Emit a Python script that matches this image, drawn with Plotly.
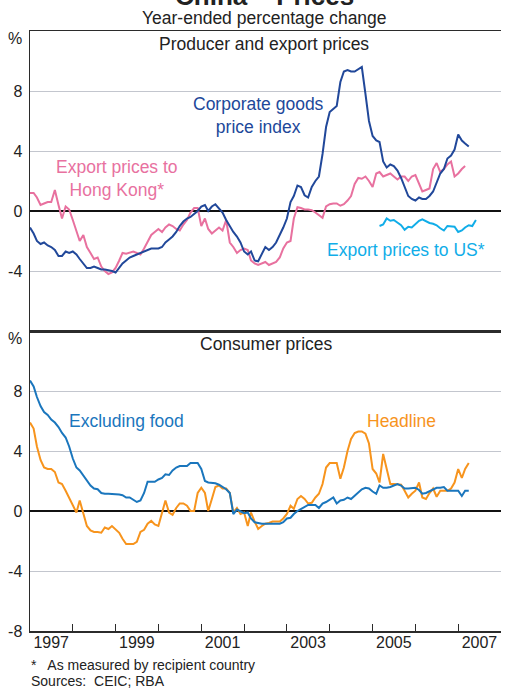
import pandas as pd
import plotly.graph_objects as go

# ---------------- data (year-ended % change, monthly from Jan 1997) ----------------
cgpi = [-1.1,-1.5,-2.0,-2.2,-2.1,-2.3,-2.4,-2.6,-3.0,-3.0,-2.7,-2.8,
        -2.7,-2.9,-3.2,-3.5,-3.8,-3.8,-3.7,-3.8,-3.9,-3.9,-3.95,-4.0,
        -4.1,-3.8,-3.5,-3.3,-3.1,-3.0,-2.9,-2.8,-2.7,-2.6,-2.5,-2.5,
        -2.5,-2.4,-2.1,-1.9,-1.7,-1.4,-1.0,-0.7,-0.5,-0.4,-0.2,0.0,
        0.3,0.4,0.0,0.3,0.45,0.2,-0.1,-0.6,-1.0,-1.4,-1.7,-2.1,
        -2.7,-2.9,-2.7,-3.3,-3.35,-2.9,-2.4,-2.6,-2.4,-2.1,-1.6,-1.1,
        -0.5,0.6,1.0,1.7,1.6,1.05,0.9,1.6,2.0,2.3,3.8,5.6,
        6.6,6.8,7.0,8.6,9.3,9.4,9.3,9.3,9.45,9.6,7.8,6.0,
        5.0,4.7,4.6,3.3,2.9,3.1,3.0,2.7,2.2,1.6,1.0,0.8,
        0.7,0.9,0.8,0.8,1.0,1.3,1.9,2.5,2.8,3.5,3.7,4.1,
        5.1,4.7,4.5,4.3]

hk = [1.2,1.2,0.9,0.4,0.5,0.6,0.6,1.4,0.4,-0.5,0.3,0.1,
      -0.6,-1.4,-2.0,-1.6,-2.4,-2.8,-3.2,-3.1,-3.7,-4.0,-4.2,-4.1,
      -3.8,-3.3,-2.8,-2.85,-2.8,-2.7,-2.8,-2.9,-2.5,-2.1,-1.6,-1.4,
      -1.2,-1.4,-1.1,-0.9,-1.0,-1.2,-1.3,-0.9,-0.6,-0.1,0.2,0.2,
      -1.0,-0.5,-1.2,-1.5,-1.3,-1.1,-1.3,-0.6,-2.1,-2.4,-2.8,-2.6,
      -2.5,-2.6,-3.3,-3.5,-3.6,-3.5,-3.4,-3.6,-3.5,-3.4,-3.1,-2.5,
      -2.1,-2.0,-0.5,0.25,0.2,0.1,0.1,0.05,-0.1,-0.3,-0.45,0.3,
      0.45,0.5,0.5,0.35,0.45,0.7,1.0,1.8,2.2,2.15,2.3,2.0,
      1.6,2.5,2.6,2.3,2.4,2.5,2.3,2.1,2.3,2.3,2.0,2.3,
      2.4,1.8,1.3,1.4,1.5,2.8,3.2,2.6,2.8,3.1,3.3,2.3,
      2.5,2.8,3.0]

# export prices to US start March 2005
us_start = "2005-03-01"
us = [-1.0,-0.9,-0.5,-0.65,-0.6,-0.75,-0.95,-1.25,-1.05,-1.1,-0.85,-0.65,
      -0.55,-0.7,-0.8,-0.85,-0.95,-1.15,-1.3,-1.0,-1.0,-1.05,-1.4,-1.3,
      -1.1,-0.95,-1.0,-0.6]

exfood = [8.7,8.3,7.6,7.0,6.6,6.4,6.1,5.9,5.6,5.2,4.9,4.3,
          3.5,2.9,2.7,2.35,2.0,1.7,1.5,1.45,1.2,1.15,1.15,1.15,
          1.1,1.1,1.05,0.9,0.9,0.75,0.6,0.7,1.2,1.95,1.95,1.95,
          2.1,2.2,2.45,2.4,2.7,2.9,3.0,3.0,3.0,3.2,3.2,3.2,
          2.8,2.0,1.9,1.9,1.85,1.75,1.6,1.45,1.2,-0.2,0.1,0.0,
          -0.15,-0.1,-0.5,-0.75,-0.8,-0.85,-0.85,-0.85,-0.8,-0.8,-0.85,-0.75,
          -0.5,-0.45,-0.2,0.0,0.15,0.3,0.4,0.4,0.4,0.2,0.5,0.6,
          0.75,0.9,0.5,0.7,0.75,0.9,0.8,1.0,1.25,1.45,1.55,1.5,
          1.3,1.15,1.7,1.55,1.55,1.6,1.7,1.8,1.7,1.5,1.5,1.5,
          1.55,1.4,1.15,1.2,1.3,1.45,1.55,1.55,1.6,1.35,1.35,1.3,
          1.35,1.0,1.35,1.35]

headline = [5.9,5.5,4.3,3.4,2.9,2.8,2.8,2.6,1.9,1.8,1.35,0.9,
            0.4,-0.1,0.7,-0.2,-1.0,-1.3,-1.4,-1.4,-1.45,-1.1,-1.2,-1.0,
            -1.2,-1.45,-1.85,-2.2,-2.2,-2.2,-2.05,-1.4,-1.25,-0.85,-0.65,-0.9,
            -1.0,-0.2,0.7,-0.1,-0.25,0.2,0.5,0.5,0.35,0.0,0.0,1.2,
            1.55,1.2,0.0,0.8,1.6,1.7,1.5,1.5,1.2,-0.1,0.2,-0.2,
            -0.1,-1.0,-0.1,-0.7,-1.2,-1.0,-0.85,-0.8,-0.7,-0.7,-0.7,-0.5,
            -0.2,0.35,0.15,0.8,1.0,0.8,0.5,0.55,0.9,1.15,1.8,2.9,
            3.2,3.2,3.2,2.15,2.9,4.0,4.8,5.2,5.3,5.3,5.15,4.5,
            2.8,2.5,1.9,3.8,2.7,1.8,1.8,1.8,1.75,1.35,0.9,1.15,
            1.35,1.9,0.9,0.8,1.2,1.5,0.95,1.35,1.35,1.35,1.5,1.9,
            2.8,2.2,2.8,3.2]

year_ticks = [str(y) + "-01-01" for y in range(1998, 2008)]
year_label_pos = [str(y) + "-07-01" for y in range(1997, 2008, 2)]
year_labels = [str(y) for y in range(1997, 2008, 2)]
y_grid = [-4, 4, 8]
top_tickvals = [11.5, 8, 4, 0, -4]
top_ticktext = ["%", "8", "4", "0", "-4"]
bot_tickvals = [11.5, 8, 4, 0, -4, -8]
bot_ticktext = ["%", "8", "4", "0", "-4", "-8"]

# ---------------- styling ----------------
FONT = "Arial, Liberation Sans, sans-serif"
C_CGPI = "#21489A"
C_HK = "#E8719F"
C_US = "#11ADE8"
C_EXF = "#1A76BD"
C_HEAD = "#F7941D"
FRAME = "#2b2b2b"
GRID = "#C3C6CE"

months = pd.date_range("1997-01-01", periods=len(cgpi), freq="MS")
months_hk = pd.date_range("1997-01-01", periods=len(hk), freq="MS")
months_us = pd.date_range(us_start, periods=len(us), freq="MS")
months_c = pd.date_range("1997-01-01", periods=len(exfood), freq="MS")

W, H = 527, 689
L, R, T, B = 30, 26, 31, 58
PW, PH = W - L - R, H - T - B


def pxx(p):
    return (p - L) / PW


def pxy(p):
    return (H - B - p) / PH


fig = go.Figure()
lw = 2
fig.add_trace(go.Scatter(x=months_hk, y=hk, mode="lines", line=dict(color=C_HK, width=lw),
                         xaxis="x", yaxis="y", hoverinfo="skip"))
fig.add_trace(go.Scatter(x=months, y=cgpi, mode="lines", line=dict(color=C_CGPI, width=lw),
                         xaxis="x", yaxis="y", hoverinfo="skip"))
fig.add_trace(go.Scatter(x=months_us, y=us, mode="lines", line=dict(color=C_US, width=lw),
                         xaxis="x", yaxis="y", hoverinfo="skip"))
fig.add_trace(go.Scatter(x=months_c, y=headline, mode="lines", line=dict(color=C_HEAD, width=lw),
                         xaxis="x2", yaxis="y3", hoverinfo="skip"))
fig.add_trace(go.Scatter(x=months_c, y=exfood, mode="lines", line=dict(color=C_EXF, width=lw),
                         xaxis="x2", yaxis="y3", hoverinfo="skip"))

xrange = ["1997-01-01", "2008-01-01"]
yrange = [-8, 12]
tickfont = dict(family=FONT, size=16, color="#222")
minor_grid = dict(tickmode="array", tickvals=y_grid, showgrid=True, gridcolor=GRID,
                  gridwidth=1, ticks="")

common_y = dict(range=yrange, showgrid=False, ticks="", tickfont=tickfont,
                showline=True, linecolor=FRAME, linewidth=1.5, fixedrange=True,
                tickmode="array", ticklabelstandoff=3, automargin=False)

fig.update_layout(
    width=W, height=H,
    margin=dict(l=L, r=R, t=T, b=B, pad=0, autoexpand=False),
    paper_bgcolor="white", plot_bgcolor="white",
    showlegend=False,
    font=dict(family=FONT, size=16, color="#222"),
    xaxis=dict(domain=[0, 1], anchor="y", range=xrange, type="date", automargin=False,
               showticklabels=False, ticks="", showgrid=False, zeroline=False, fixedrange=True,
               showline=True, mirror=True, linecolor=FRAME, linewidth=1.5),
    xaxis2=dict(domain=[0, 1], anchor="y3", range=xrange, type="date", automargin=False,
                tickmode="array", tickvals=year_label_pos, ticktext=year_labels,
                ticks="", ticklen=0, tickfont=tickfont, ticklabelstandoff=-4,
                showgrid=False, zeroline=False, fixedrange=True,
                showline=True, mirror=True, linecolor=FRAME, linewidth=1.5,
                minor=dict(tickmode="array", tickvals=year_ticks, ticks="inside",
                           ticklen=7, tickwidth=1, tickcolor=FRAME, showgrid=False)),
    yaxis=dict(domain=[0.5, 1], anchor="x", tickvals=top_tickvals, ticktext=top_ticktext,
               zeroline=True, zerolinecolor="#111", zerolinewidth=1.5,
               minor=minor_grid, **common_y),
    yaxis2=dict(overlaying="y", side="right", anchor="x", tickvals=top_tickvals,
                ticktext=top_ticktext, zeroline=False, **common_y),
    yaxis3=dict(domain=[0, 0.5], anchor="x2", tickvals=bot_tickvals, ticktext=bot_ticktext,
                zeroline=True, zerolinecolor="#111", zerolinewidth=1.5,
                minor=minor_grid, **common_y),
    yaxis4=dict(overlaying="y3", side="right", anchor="x2", tickvals=bot_tickvals,
                ticktext=bot_ticktext, zeroline=False, **common_y),
)

ann = []


def text(s, x, y, size=17.5, color="#222", xanchor="center", bold=False):
    ann.append(dict(text=("<b>%s</b>" % s) if bold else s, x=pxx(x), y=pxy(y),
                    xref="paper", yref="paper", xanchor=xanchor, yanchor="middle",
                    showarrow=False, align="center" if xanchor == "center" else "left",
                    font=dict(family=FONT, size=size, color=color)))


text("China – Prices", 264, -3.5, size=26, bold=True)
text("Year-ended percentage change", 264, 18, size=17.5)
text("Producer and export prices", 264, 44, size=17.5)
text("Consumer prices", 266, 344, size=17.5)
text("Corporate goods<br>price index", 258, 115, color=C_CGPI)
text("Export prices to<br>Hong Kong*", 117, 178, color=C_HK)
text("Export prices to US*", 406, 250, color=C_US)
text("Excluding food", 126, 421, color=C_EXF)
text("Headline", 401, 421, color=C_HEAD)
text("*   As measured by recipient country", 29, 665, size=14, xanchor="left")
text("Sources:  CEIC; RBA", 29, 681, size=14, xanchor="left")
fig.update_layout(annotations=ann)

fig.write_html("out.html",
               config={"displayModeBar": False, "staticPlot": True},
               post_script="document.body.style.margin='0';document.body.style.overflow='hidden';")
